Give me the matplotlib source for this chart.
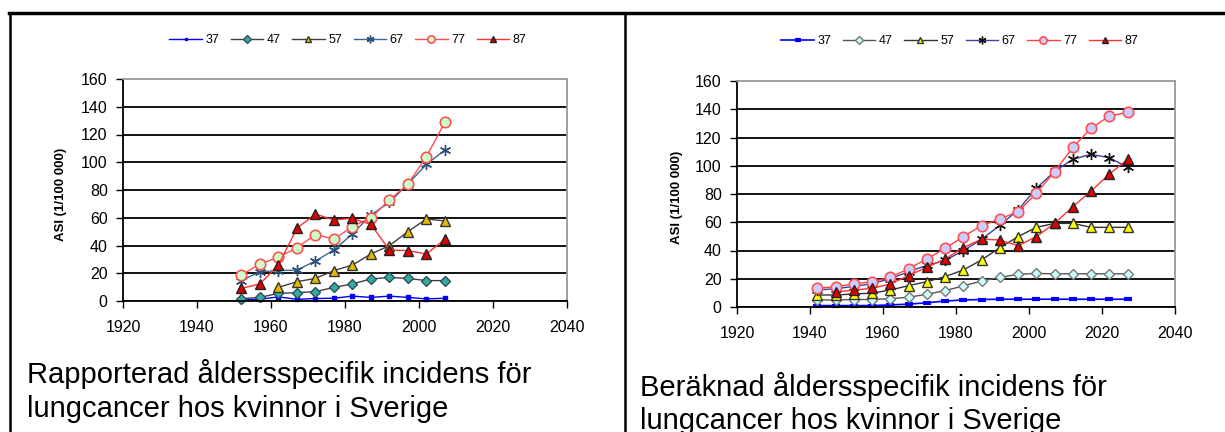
import numpy as np
import matplotlib
matplotlib.use('Agg')
import matplotlib.pyplot as plt
from matplotlib.lines import Line2D

plt.rcParams['font.family'] = ['Liberation Sans', 'DejaVu Sans']

series_names = ['37', '47', '57', '67', '77', '87']

# reported incidence (left chart)
years_rep = [1952, 1957, 1962, 1967, 1972, 1977, 1982, 1987, 1992, 1997, 2002, 2007]
rep_37 = [1.0, 1.2, 3.0, 1.2, 1.8, 2.0, 3.5, 2.6, 3.5, 2.6, 1.5, 2.0]
rep_47 = [1.7, 2.6, 5.5, 6.0, 6.7, 9.8, 12.3, 15.9, 17.0, 16.3, 14.7, 14.7]
rep_57 = [np.nan, np.nan, 9.8, 13.9, 16.3, 21.9, 25.9, 33.9, 39.9, 50.0, 59.1, 57.7]
rep_67 = [14.7, 21.1, 21.9, 22.3, 28.8, 36.8, 48.3, 62.0, 71.1, 84.3, 98.5, 108.8]
rep_77 = [18.7, 26.7, 31.5, 38.4, 47.8, 44.7, 53.6, 60.0, 72.8, 84.3, 104.0, 128.8]
rep_87 = [9.1, 12.3, 25.9, 52.4, 62.7, 58.4, 59.6, 55.2, 36.8, 36.3, 33.9, 44.4]

# calculated incidence (right chart)
years_calc = [1942, 1947, 1952, 1957, 1962, 1967, 1972, 1977, 1982, 1987,
              1992, 1997, 2002, 2007, 2012, 2017, 2022, 2027]
calc_37 = [1.0, 1.0, 1.0, 1.0, 1.5, 2.0, 3.0, 4.2, 5.0, 5.3,
           5.5, 5.5, 5.5, 5.5, 5.5, 5.5, 5.5, 5.5]
calc_47 = [5.0, 5.0, 5.3, 5.3, 5.9, 6.9, 9.0, 11.6, 14.9, 18.4,
           21.0, 23.1, 23.8, 23.5, 23.5, 23.5, 23.5, 23.5]
calc_57 = [8.5, 8.5, 9.2, 9.8, 12.0, 15.1, 17.9, 21.5, 26.2, 33.3,
           42.0, 49.8, 56.4, 59.2, 59.2, 56.4, 56.4, 56.4]
calc_67 = [12.0, 13.0, 14.5, 16.5, 20.0, 25.0, 29.5, 33.0, 39.9, 47.9,
           57.8, 68.7, 84.0, 96.0, 104.6, 108.1, 105.7, 98.9]
calc_77 = [13.2, 14.4, 16.3, 17.9, 21.0, 27.1, 34.0, 41.5, 49.8, 57.6,
           62.3, 67.5, 80.5, 95.8, 113.0, 126.5, 135.2, 137.8]
calc_87 = [np.nan, 10.6, 12.0, 13.2, 16.3, 22.2, 28.1, 34.0, 42.0, 48.1,
           47.4, 43.4, 49.8, 59.2, 71.0, 82.1, 94.0, 104.5]

caption_left = ['Rapporterad åldersspecifik incidens för', 'lungcancer hos kvinnor i Sverige']
caption_right = ['Beräknad åldersspecifik incidens för', 'lungcancer hos kvinnor i Sverige']
ylabel = 'ASI (1/100 000)'

style_left = [
    dict(color='#0000ff', marker='s', markersize=2.5, mfc='#0000ff', mec='#0000ff', lw=1.0),
    dict(color='#404040', marker='D', markersize=5.5, mfc='#33aaaa', mec='#305050', lw=1.0),
    dict(color='#404040', marker='^', markersize=7, mfc='#e6b800', mec='#333333', lw=1.0),
    dict(color='#3a6790', marker=(6, 2, 0), markersize=8, mfc='#2a4f78', mec='#2a4f78', mew=1.0, lw=1.0),
    dict(color='#ff5050', marker='o', markersize=7.5, mfc='#ccffcc', mec='#ff5050', mew=1.2, lw=1.0),
    dict(color='#ff3030', marker='^', markersize=7, mfc='#e00000', mec='#222222', lw=1.0),
]
style_right = [
    dict(color='#0000ff', marker='_', markersize=6, mfc='#0000ff', mec='#0000ff', mew=3, lw=1.2),
    dict(color='#555555', marker='D', markersize=5.5, mfc='#ccffff', mec='#777777', lw=1.0),
    dict(color='#333333', marker='^', markersize=7, mfc='#ffff00', mec='#333333', lw=1.0),
    dict(color='#4040a0', marker=(6, 2, 0), markersize=8, mfc='#111111', mec='#111111', mew=1.0, lw=1.0),
    dict(color='#ff4040', marker='o', markersize=7.5, mfc='#ccccff', mec='#ff5050', mew=1.2, lw=1.0),
    dict(color='#ff3030', marker='^', markersize=7, mfc='#e00000', mec='#222222', lw=1.0),
]

fig = plt.figure(figsize=(12.25, 4.32), dpi=100)


def setup_axes(ax):
    ax.set_xlim(1920, 2040)
    ax.set_ylim(0, 160)
    ax.set_xticks(range(1920, 2041, 20))
    ax.set_yticks(range(0, 161, 20))
    ax.tick_params(axis='both', direction='out', length=5, width=1, labelsize=11.5, color='black')
    ax.tick_params(axis='y', pad=6)
    ax.tick_params(axis='x', pad=9)
    ax.grid(axis='y', color='black', lw=1.3)
    ax.set_axisbelow(True)
    ax.get_ygridlines()[-1].set_visible(False)
    for s in ['top', 'right']:
        ax.spines[s].set_color('#999999')
        ax.spines[s].set_linewidth(1.3)
    for s in ['left', 'bottom']:
        ax.spines[s].set_color('black')
        ax.spines[s].set_linewidth(1.3)


ax1 = fig.add_axes([123 / 1225, 1 - 301 / 432, 444 / 1225, 222 / 432])
setup_axes(ax1)
for name, vals, st in zip(series_names, [rep_37, rep_47, rep_57, rep_67, rep_77, rep_87], style_left):
    ax1.plot(years_rep, vals, label=name, clip_on=False, **st)

ax2 = fig.add_axes([737 / 1225, 1 - 307 / 432, 438 / 1225, 226 / 432])
setup_axes(ax2)
for name, vals, st in zip(series_names, [calc_37, calc_47, calc_57, calc_67, calc_77, calc_87], style_right):
    ax2.plot(years_calc, vals, label=name, clip_on=False, **st)

leg_kw = dict(ncol=6, frameon=False, fontsize=9, handlelength=2.6, handletextpad=0.3,
              columnspacing=0.9, loc='center', markerscale=0.7)
h1, l1 = ax1.get_legend_handles_labels()
fig.legend(h1, l1, bbox_to_anchor=(348 / 1225, 1 - 40 / 432), **leg_kw)
h2, l2 = ax2.get_legend_handles_labels()
fig.legend(h2, l2, bbox_to_anchor=(960 / 1225, 1 - 41 / 432), **leg_kw)

fig.text(61 / 1225, 1 - 194 / 432, ylabel, rotation=90, fontsize=9.5, fontweight='bold',
         ha='center', va='center')
fig.text(677 / 1225, 1 - 197 / 432, ylabel, rotation=90, fontsize=9.5, fontweight='bold',
         ha='center', va='center')

fig.text(27 / 1225, 1 - 383 / 432, caption_left[0], fontsize=21, va='baseline')
fig.text(27 / 1225, 1 - 417 / 432, caption_left[1], fontsize=21, va='baseline')
fig.text(640 / 1225, 1 - 396 / 432, caption_right[0], fontsize=21, va='baseline')
fig.text(640 / 1225, 1 - 429 / 432, caption_right[1], fontsize=21, va='baseline')

# table-like frame around the two panels
fig.add_artist(Line2D([9 / 1225, 1], [1 - 13 / 432] * 2, color='black', lw=2.5, transform=fig.transFigure))
fig.add_artist(Line2D([10 / 1225] * 2, [0, 1 - 13 / 432], color='black', lw=1.8, transform=fig.transFigure))
fig.add_artist(Line2D([625 / 1225] * 2, [0, 1 - 13 / 432], color='black', lw=1.8, transform=fig.transFigure))

fig.savefig('out.png', dpi=100)
